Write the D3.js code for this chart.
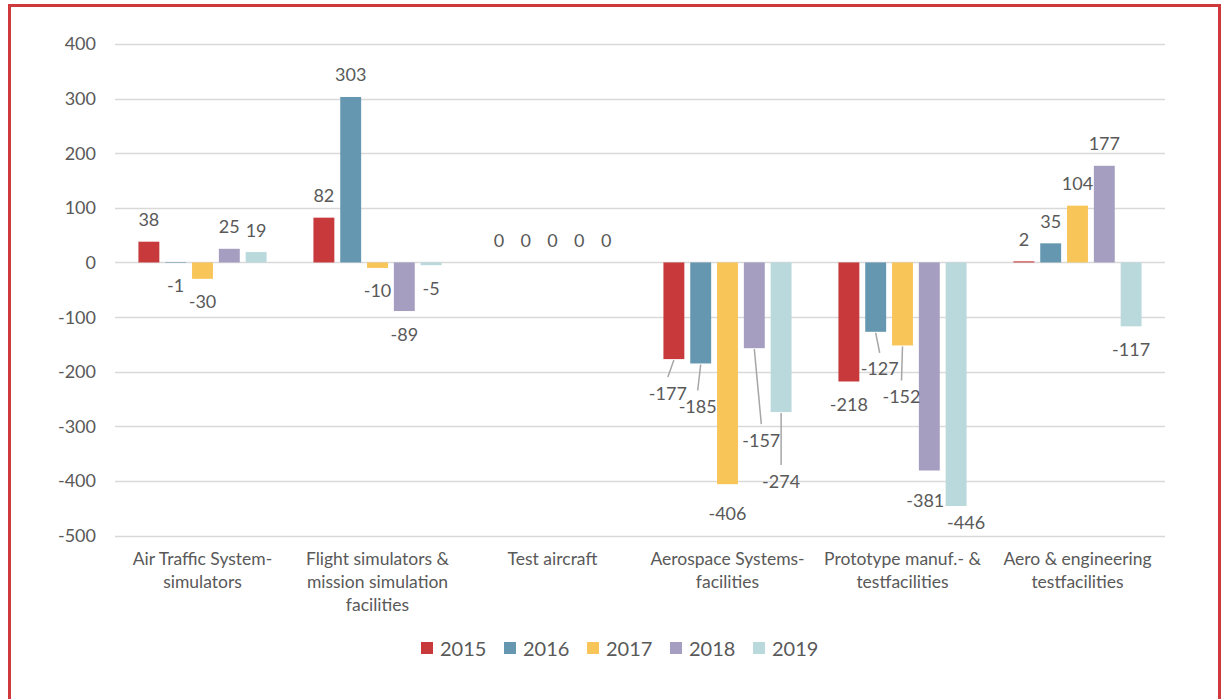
<!DOCTYPE html>
<html>
<head>
<meta charset="utf-8">
<script src="https://cdn.jsdelivr.net/npm/d3@7"></script>
<style>
  body { margin: 0; background: #fff; }
  svg text { font-family: Lato, "Open Sans", sans-serif; fill: #595959; }
</style>
</head>
<body>
<div id="chart"></div>
<script>
// data
var categories = [
    ["Air Traffic System-", "simulators"],
    ["Flight simulators &", "mission simulation", "facilities"],
    ["Test aircraft"],
    ["Aerospace Systems-", "facilities"],
    ["Prototype manuf.- &", "testfacilities"],
    ["Aero & engineering", "testfacilities"]
];
var years = ["2015", "2016", "2017", "2018", "2019"];
var v2015 = [38, 82, 0, -177, -218, 2];
var v2016 = [-1, 303, 0, -185, -127, 35];
var v2017 = [-30, -10, 0, -406, -152, 104];
var v2018 = [25, -89, 0, -157, -381, 177];
var v2019 = [19, -5, 0, -274, -446, -117];
var yTicks = [400, 300, 200, 100, 0, -100, -200, -300, -400, -500];

var colors = ["#c8393b", "#6598b0", "#f8c559", "#a59ec1", "#bad9dc"];

// hand-moved labels (Excel style), key = category index + "-" + year index, [dx, dy]
var labelNudge = {
    "3-0": [-6, 11], "3-1": [-3, 20], "3-2": [0, 6], "3-3": [7, 69], "3-4": [0, 46],
    "4-1": [4, 14], "4-2": [-1, 28], "4-3": [-4, 7], "4-4": [10, -6]
};

(function() {
    var width = 1221, height = 699;
    var margin = { left: 115, right: 56, top: 44, bottom: 164 };
    var series = [v2015, v2016, v2017, v2018, v2019];
    var catIdx = d3.range(categories.length);

    var svg = d3.select("#chart").append("svg")
        .attr("width", width)
        .attr("height", height);

    // red frame
    svg.append("rect")
        .attr("x", 9.5).attr("y", 5.5)
        .attr("width", 1210).attr("height", 730)
        .attr("fill", "none")
        .attr("stroke", "#d0393c")
        .attr("stroke-width", 3);

    var x0 = d3.scaleBand().domain(catIdx)
        .range([margin.left, width - margin.right])
        .paddingInner(0.234).paddingOuter(0.117);
    var x1 = d3.scaleBand().domain(d3.range(years.length))
        .range([0, x0.bandwidth()])
        .paddingInner(0.22).paddingOuter(0.11);
    var y = d3.scaleLinear().domain([-500, 400])
        .range([height - margin.bottom + 0.5, margin.top]);

    // gridlines
    svg.append("g").selectAll("line").data(yTicks).enter().append("line")
        .attr("x1", margin.left).attr("x2", width - margin.right)
        .attr("y1", function(d) { return Math.round(y(d)) + 0.5; })
        .attr("y2", function(d) { return Math.round(y(d)) + 0.5; })
        .attr("stroke", "#d9d9d9")
        .attr("stroke-width", 1.5);

    // y tick labels
    svg.append("g").selectAll("text").data(yTicks).enter().append("text")
        .attr("x", 96)
        .attr("y", function(d) { return y(d); })
        .attr("dy", "0.36em")
        .attr("text-anchor", "end")
        .style("font-size", "18px")
        .text(function(d) { return d; });

    // bars
    var bars = [];
    series.forEach(function(s, si) {
        s.forEach(function(v, ci) { bars.push({ ci: ci, si: si, v: v }); });
    });
    svg.append("g").selectAll("rect").data(bars).enter().append("rect")
        .attr("x", function(d) { return x0(d.ci) + x1(d.si); })
        .attr("width", x1.bandwidth())
        .attr("y", function(d) { return y(Math.max(0, d.v)); })
        .attr("height", function(d) { return Math.abs(y(d.v) - y(0)); })
        .attr("fill", function(d) { return colors[d.si]; });

    // value labels with leader lines for moved ones
    var lab = svg.append("g");
    bars.forEach(function(d) {
        var cx = x0(d.ci) + x1(d.si) + x1.bandwidth() / 2;
        var end = y(d.v);
        var cy = d.v >= 0 ? end - 22 : end + 23;
        var n = labelNudge[d.ci + "-" + d.si] || [0, 0];
        var tx = cx + n[0], ty = cy + n[1];
        if (n[1] > 10) {
            lab.append("line")
                .attr("x1", cx).attr("y1", end + 1)
                .attr("x2", tx).attr("y2", ty - 16)
                .attr("stroke", "#a6a6a6")
                .attr("stroke-width", 1.5);
        }
        lab.append("text")
            .attr("x", tx).attr("y", ty)
            .attr("dy", "0.36em")
            .attr("text-anchor", "middle")
            .style("font-size", "18px")
            .text(d.v);
    });

    // category labels
    var cat = svg.append("g").selectAll("text").data(catIdx).enter().append("text")
        .attr("x", function(d) { return x0(d) + x0.bandwidth() / 2; })
        .attr("y", 565)
        .attr("text-anchor", "middle")
        .style("font-size", "17.5px");
    cat.selectAll("tspan").data(function(d) { return categories[d]; }).enter().append("tspan")
        .attr("x", function() { return d3.select(this.parentNode).attr("x"); })
        .attr("dy", function(d, i) { return i ? 23 : 0; })
        .text(function(d) { return d; });

    // legend
    var leg = svg.append("g").selectAll("g").data(years).enter().append("g")
        .attr("transform", function(d, i) { return "translate(" + (421 + i * 83) + ",0)"; });
    leg.append("rect")
        .attr("x", 0).attr("y", 642)
        .attr("width", 12).attr("height", 12)
        .attr("fill", function(d, i) { return colors[i]; });
    leg.append("text")
        .attr("x", 19).attr("y", 649)
        .attr("dy", "0.36em")
        .style("font-size", "20px")
        .text(function(d) { return d; });
})();
</script>
</body>
</html>
